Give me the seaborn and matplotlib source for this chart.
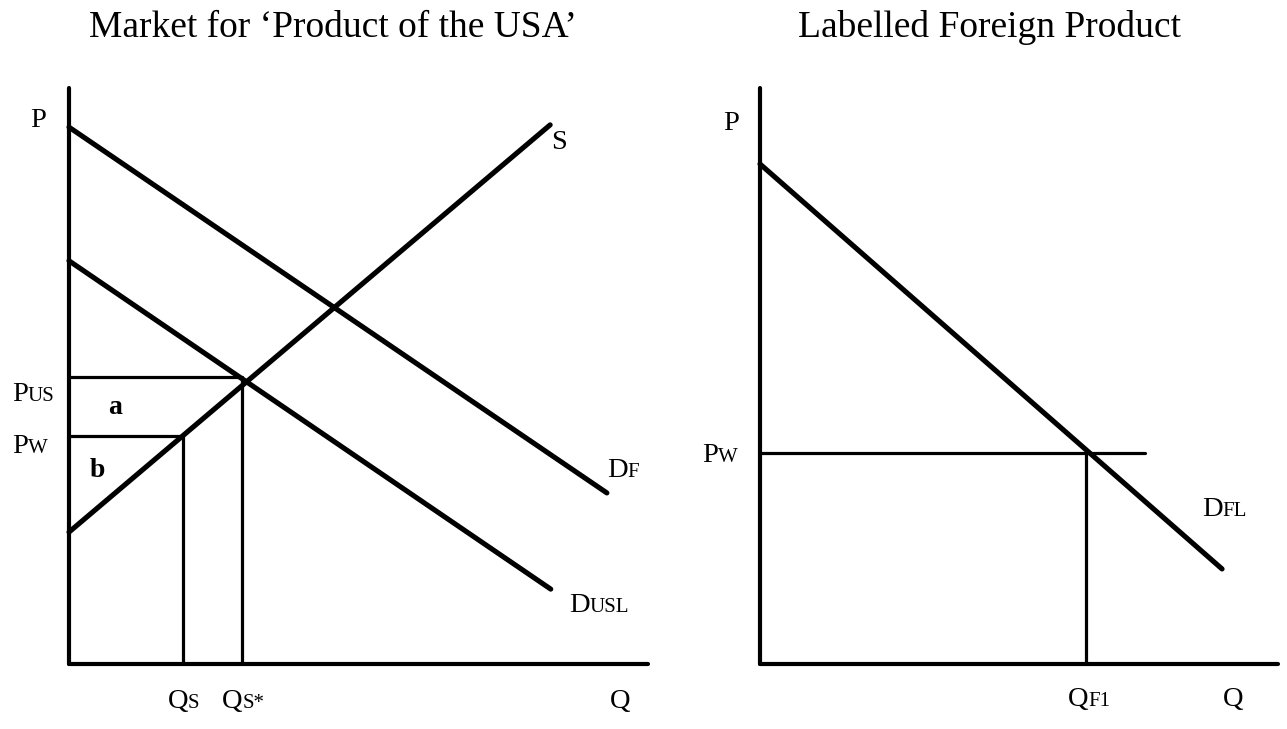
"""
Two supply and demand panels: the US-labelled market and the labelled foreign product.
"""
import matplotlib.pyplot as plt
import seaborn as sns
import pandas as pd

# left panel: market for 'Product of the USA'
S_q = [0, 83.1]
S_p = [22.9, 93.6]
DF_q = [0, 92.9]
DF_p = [93.2, 29.7]
DUSL_q = [0, 83.2]
DUSL_p = [70.0, 13.0]
P_US = 49.8
P_W = 39.6
Q_S = 19.7
Q_S_STAR = 29.9

# right panel: labelled foreign product
DFL_q = [0, 89.2]
DFL_p = [86.8, 16.5]
PW_F = 36.6
PW_F_END = 74.3
Q_F1 = 62.9

sns.set_theme(style="white")
plt.rcParams['font.family'] = ['Liberation Serif', 'DejaVu Serif']
plt.rcParams['text.color'] = 'black'

fig = plt.figure(figsize=(12.87, 7.29), dpi=100)
ax1 = fig.add_axes([69 / 1287, 65 / 729, 579 / 1287, 576 / 729])
ax2 = fig.add_axes([760 / 1287, 65 / 729, 518 / 1287, 576 / 729])
renderer = fig.canvas.get_renderer()

THICK = 3.7
THIN = 2.3


def curve(ax, q, p, lw=THICK):
    df = pd.DataFrame({"q": q, "p": p})
    sns.lineplot(data=df, x="q", y="p", ax=ax, color="black", linewidth=lw,
                 estimator=None, sort=False, solid_capstyle="round",
                 clip_on=False)


def label(ax, x, y, main, sub="", size=20.5, subsize=15, weight="normal"):
    t = ax.text(x, y, main, fontsize=size, va="baseline", ha="left",
                fontweight=weight)
    if sub:
        w = t.get_window_extent(renderer).width * 72 / fig.dpi
        ax.annotate(sub, (x, y), xytext=(w, 0), textcoords="offset points",
                    fontsize=subsize, va="baseline", ha="left",
                    annotation_clip=False)


for ax in (ax1, ax2):
    ax.set_xlim(0, 100)
    ax.set_ylim(0, 100)
    ax.set_xticks([])
    ax.set_yticks([])
    ax.set_xlabel("")
    ax.set_ylabel("")
    ax.patch.set_alpha(0)
    sns.despine(ax=ax)
    for side in ("left", "bottom"):
        ax.spines[side].set_linewidth(3.0)
        ax.spines[side].set_color("black")
        ax.spines[side].set_capstyle("round")

# left panel
curve(ax1, DF_q, DF_p)
curve(ax1, DUSL_q, DUSL_p)
curve(ax1, S_q, S_p)
curve(ax1, [0, Q_S_STAR], [P_US, P_US], THIN)
curve(ax1, [0, Q_S], [P_W, P_W], THIN)
curve(ax1, [Q_S, Q_S], [0, P_W], THIN)
curve(ax1, [Q_S_STAR, Q_S_STAR], [0, P_US], THIN)

label(ax1, -6.7, 93.2, "P")
label(ax1, -9.9, 45.7, "P", "US")
label(ax1, -9.9, 36.7, "P", "W")
label(ax1, 6.8, 43.4, "a", size=20, weight="bold")
label(ax1, 3.6, 32.5, "b", size=20, weight="bold")
label(ax1, 83.2, 89.4, "S")
label(ax1, 92.9, 32.5, "D", "F")
label(ax1, 86.4, 9.1, "D", "USL")
label(ax1, 17.0, -7.6, "Q", "S")
label(ax1, 26.4, -7.6, "Q", "S*")
label(ax1, 93.4, -7.6, "Q")

# right panel
curve(ax2, DFL_q, DFL_p)
curve(ax2, [0, PW_F_END], [PW_F, PW_F], THIN)
curve(ax2, [Q_F1, Q_F1], [0, PW_F], THIN)

label(ax2, -7.1, 92.7, "P")
label(ax2, -11.2, 35.1, "P", "W")
label(ax2, 85.3, 25.7, "D", "FL")
label(ax2, 59.5, -7.3, "Q", "F1")
label(ax2, 89.4, -7.3, "Q")

fig.text(333 / 1287, 1 - 37 / 729, "Market for \u2018Product of the USA\u2019",
         ha="center", va="baseline", fontsize=27)
fig.text(990 / 1287, 1 - 37 / 729, "Labelled Foreign Product",
         ha="center", va="baseline", fontsize=27)

fig.savefig("out.png", dpi=100, facecolor="white")
